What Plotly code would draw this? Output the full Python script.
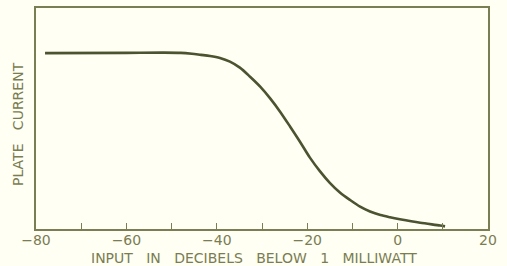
import plotly.graph_objects as go

# Data
input_db = [-78, -60, -52, -48, -45.5, -43.5, -41.5, -39.3, -37.1, -34.9, -32.7, -30.4, -28.2, -26.0,
            -23.8, -21.6, -19.4, -17.2, -15.0, -12.7, -10.5, -8.3, -6.1, -3.8, -1.7,
            0.5, 5.0, 9.4, 10.5]
plate_current = [79.6, 79.7, 79.8, 79.7, 79.3, 78.8, 78.3, 77.4, 75.7, 73.0, 69.0, 64.4, 59.1, 53.1,
                 46.4, 39.5, 32.3, 26.2, 20.9, 16.4, 13.1, 10.1, 7.9, 6.3, 5.3,
                 4.4, 2.8, 1.6, 1.2]

tick_vals = [-80, -70, -60, -50, -40, -30, -20, -10, 0, 10, 20]
tick_text = ["\u221280", "", "\u221260", "", "\u221240", "", "\u221220", "", "0", "", "20"]

bg = "#fffff3"
frame = "#7b7e52"
curve = "#4b5330"
text_col = "#7a7c52"
font_family = "DejaVu Sans"
gap = "\u00a0\u00a0\u00a0"

fig = go.Figure()
fig.add_trace(go.Scatter(
    x=input_db, y=plate_current, mode="lines",
    line=dict(color=curve, width=2.6, shape="spline", smoothing=0.8),
    hoverinfo="skip", showlegend=False,
))

fig.update_layout(
    width=507, height=266,
    margin=dict(l=36, r=19, t=8, b=37, autoexpand=False),
    paper_bgcolor=bg, plot_bgcolor=bg,
    font=dict(family=font_family, size=14, color=text_col),
    xaxis=dict(
        range=[-80, 20], tickvals=tick_vals, ticktext=tick_text,
        ticks="inside", ticklen=6, tickwidth=1, tickcolor=frame,
        showline=True, linecolor=frame, linewidth=2, mirror=True,
        showgrid=False, zeroline=False, automargin=False,
        tickfont=dict(size=14, color=text_col), ticklabelstandoff=-3,
    ),
    yaxis=dict(
        range=[0, 100], showticklabels=False, ticks="",
        showline=True, linecolor=frame, linewidth=2, mirror=True,
        showgrid=False, zeroline=False, automargin=False,
    ),
    annotations=[
        dict(text=gap.join(["INPUT", "IN", "DECIBELS", "BELOW", "1", "MILLIWATT"]),
             xref="paper", yref="paper", x=0.483, y=-0.133, xanchor="center", yanchor="middle",
             showarrow=False, font=dict(size=14, color=text_col)),
        dict(text="PLATE\u00a0\u00a0 CURRENT", textangle=-90,
             xref="paper", yref="paper", x=-0.04, y=0.475, xanchor="center", yanchor="middle",
             showarrow=False, font=dict(size=14, color=text_col)),
    ],
)

fig.write_html("out.html", config={"displayModeBar": False},
               post_script="document.body.style.margin='0';document.body.style.background='%s';" % bg)
